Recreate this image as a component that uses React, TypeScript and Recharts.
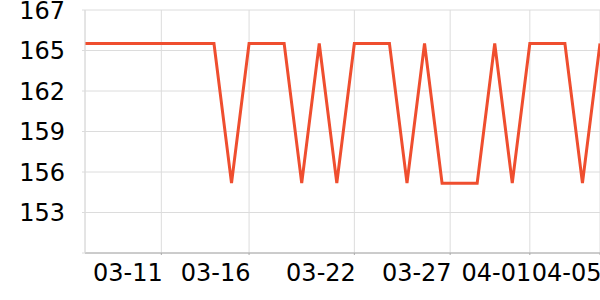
import { LineChart, Line, XAxis, YAxis, CartesianGrid } from 'recharts'

// daily readings, 03-06 .. 04-05
const dates = [
  '03-06', '03-07', '03-08', '03-09', '03-10', '03-11', '03-12', '03-13', '03-14', '03-15',
  '03-16', '03-17', '03-18', '03-19', '03-20', '03-21', '03-22', '03-23', '03-24', '03-25',
  '03-26', '03-27', '03-28', '03-29', '03-30', '03-31', '04-01', '04-02', '04-03', '04-04',
  '04-05',
]
const values = [
  165, 165, 165, 165, 165, 165, 165, 165, 165, 155,
  165, 165, 165, 155, 165, 155, 165, 165, 165, 155,
  165, 155, 155, 155, 165, 155, 165, 165, 165, 155,
  165,
]

// x ticks in day numbers (March day count), labels as shown
const xTickDays = [11, 16, 22, 27.46, 32, 36]
const xTickLabels = ['03-11', '03-16', '03-22', '03-27', '04-01', '04-05']

const yTicks = [150, 152.9, 155.8, 158.7, 161.6, 164.5, 167.4]
const yTickLabels = ['', '153', '156', '159', '162', '165', '167']

const toDay = (d: string) => {
  const [m, day] = d.split('-').map(Number)
  return m === 3 ? day : 31 + day
}

const data = dates.map((d, i) => ({ day: toDay(d), value: values[i] }))

const FONT = '"DejaVu Sans", sans-serif'

function XTick({ x, y, index }: any) {
  return (
    <text x={x} y={y} dx={1.5} dy="0.71em" textAnchor="end" fill="#000" fontSize={24} fontFamily={FONT}>
      {xTickLabels[index]}
    </text>
  )
}

function YTick({ x, y, index }: any) {
  return (
    <text x={x} y={y} dy="0.36em" textAnchor="end" fill="#000" fontSize={24} fontFamily={FONT}>
      {yTickLabels[index]}
    </text>
  )
}

export default function App() {
  return (
    <div style={{ position: 'absolute', left: 0, top: 0, background: '#fff' }}>
      <LineChart width={600} height={300} data={data} margin={{ top: 10, right: 0, left: 0, bottom: 0 }}>
        <CartesianGrid stroke="#dcdcdc" strokeWidth={1} />
        <XAxis
          dataKey="day"
          type="number"
          domain={[6.65, 36]}
          allowDataOverflow
          ticks={xTickDays}
          interval={0}
          height={47}
          tickSize={2}
          tickMargin={9}
          axisLine={{ stroke: '#aaaaaa' }}
          tickLine={{ stroke: '#aaaaaa' }}
          tick={<XTick />}
        />
        <YAxis
          type="number"
          domain={[150, 167.4]}
          allowDataOverflow
          ticks={yTicks}
          interval={0}
          width={85}
          tickSize={3}
          tickMargin={17}
          axisLine={{ stroke: '#dcdcdc' }}
          tickLine={{ stroke: '#dcdcdc' }}
          tick={<YTick />}
        />
        <Line
          type="linear"
          dataKey="value"
          stroke="#ef4e2f"
          strokeWidth={3}
          dot={false}
          isAnimationActive={false}
        />
      </LineChart>
    </div>
  )
}
